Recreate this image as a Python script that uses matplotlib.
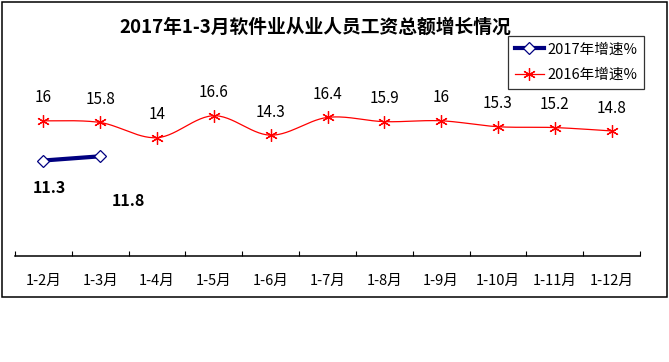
import matplotlib
matplotlib.use("Agg")
import matplotlib.pyplot as plt
import numpy as np
from matplotlib.patches import Rectangle
from matplotlib.lines import Line2D

plt.rcParams['font.family'] = ['Noto Sans CJK SC', 'DejaVu Sans']

categories = ["1-2月", "1-3月", "1-4月", "1-5月", "1-6月", "1-7月", "1-8月", "1-9月", "1-10月", "1-11月", "1-12月"]
growth_2016 = [16, 15.8, 14, 16.6, 14.3, 16.4, 15.9, 16, 15.3, 15.2, 14.8]
growth_2017 = [11.3, 11.8]
title = "2017年1-3月软件业从业人员工资总额增长情况"
label_2017 = "2017年增速%"
label_2016 = "2016年增速%"

W, H = 669, 362
fig = plt.figure(figsize=(W / 100, H / 100), dpi=100)

# outer chart frame
fig.patches.append(Rectangle((2 / W, 1 - 297 / H), 665 / W, 295 / H, transform=fig.transFigure,
                             fill=False, edgecolor='black', linewidth=1.1))

ax = fig.add_axes([15 / W, 1 - 256 / H, 625 / W, (256 - 87) / H])
ax.set_xlim(-0.5, len(categories) - 0.5)
ax.set_ylim(0, 20)


def smooth(xs, ys, n=30):
    xs = np.asarray(xs, float)
    ys = np.asarray(ys, float)
    px, py = [], []
    for i in range(len(xs) - 1):
        x0, y0 = (xs[i - 1], ys[i - 1]) if i > 0 else (xs[i], ys[i])
        x1, y1 = xs[i], ys[i]
        x2, y2 = xs[i + 1], ys[i + 1]
        x3, y3 = (xs[i + 2], ys[i + 2]) if i + 2 < len(xs) else (xs[i + 1], ys[i + 1])
        c1x, c1y = x1 + (x2 - x0) / 6, y1 + (y2 - y0) / 6
        c2x, c2y = x2 - (x3 - x1) / 6, y2 - (y3 - y1) / 6
        t = np.linspace(0, 1, n)
        bx = (1 - t) ** 3 * x1 + 3 * (1 - t) ** 2 * t * c1x + 3 * (1 - t) * t ** 2 * c2x + t ** 3 * x2
        by = (1 - t) ** 3 * y1 + 3 * (1 - t) ** 2 * t * c1y + 3 * (1 - t) * t ** 2 * c2y + t ** 3 * y2
        px.extend(bx)
        py.extend(by)
    return px, py

x16 = np.arange(len(growth_2016))
sx, sy = smooth(x16, growth_2016)
red = '#FF0000'
ax.plot(sx, sy, color=red, lw=0.9, zorder=2)
ax.plot(x16, growth_2016, linestyle='none', marker=(6, 2, 0), markersize=9,
        markeredgecolor=red, markeredgewidth=0.9, zorder=3)

x17 = np.arange(len(growth_2017))
navy = '#000080'
ax.plot(x17, growth_2017, color=navy, lw=3, marker='D', markersize=6,
        markerfacecolor='white', markeredgecolor=navy, markeredgewidth=0.9, zorder=4)

for x, v in zip(x16, growth_2016):
    ax.annotate(f"{v:g}", (x, v), xytext=(0, 16.5), textcoords='offset points',
                ha='center', va='center', fontsize=11, color='black')

offsets17 = [(4, -20), (20, -32)]
for x, v, off in zip(x17, growth_2017, offsets17):
    ax.annotate(f"{v:g}", (x, v), xytext=off, textcoords='offset points',
                ha='center', va='center', fontsize=11.5, fontweight='bold', color='black')

for s in ['top', 'right', 'left']:
    ax.spines[s].set_visible(False)
ax.spines['bottom'].set_linewidth(1.1)
ax.set_yticks([])
ax.set_xticks(np.arange(-0.5, len(categories), 1.0))
ax.set_xticklabels([])
ax.tick_params(axis='x', which='major', direction='in', length=3.5, width=0.8)
ax.set_xticks(np.arange(len(categories)), minor=True)
ax.set_xticklabels(categories, minor=True, fontsize=10.5)
ax.tick_params(axis='x', which='minor', length=0, pad=13)

fig.text(315 / W, 1 - 27 / H, title, ha='center', va='center', fontsize=13.5, fontweight='bold')

handles = [Line2D([], [], color=navy, lw=3, marker='D', markersize=6, markerfacecolor='white',
                  markeredgecolor=navy, markeredgewidth=0.9),
           Line2D([], [], color=red, lw=0.9, marker=(6, 2, 0), markersize=9,
                  markeredgecolor=red, markeredgewidth=0.9)]
leg = fig.legend(handles, [label_2017, label_2016], loc='upper left',
                 bbox_to_anchor=(508 / W, 1 - 36 / H), frameon=True, fancybox=False,
                 edgecolor='black', fontsize=10.5, handlelength=2.0, handletextpad=0.25,
                 borderpad=0.45, labelspacing=0.8, borderaxespad=0)
leg.get_frame().set_linewidth(0.9)

fig.savefig("out.png", dpi=100)
